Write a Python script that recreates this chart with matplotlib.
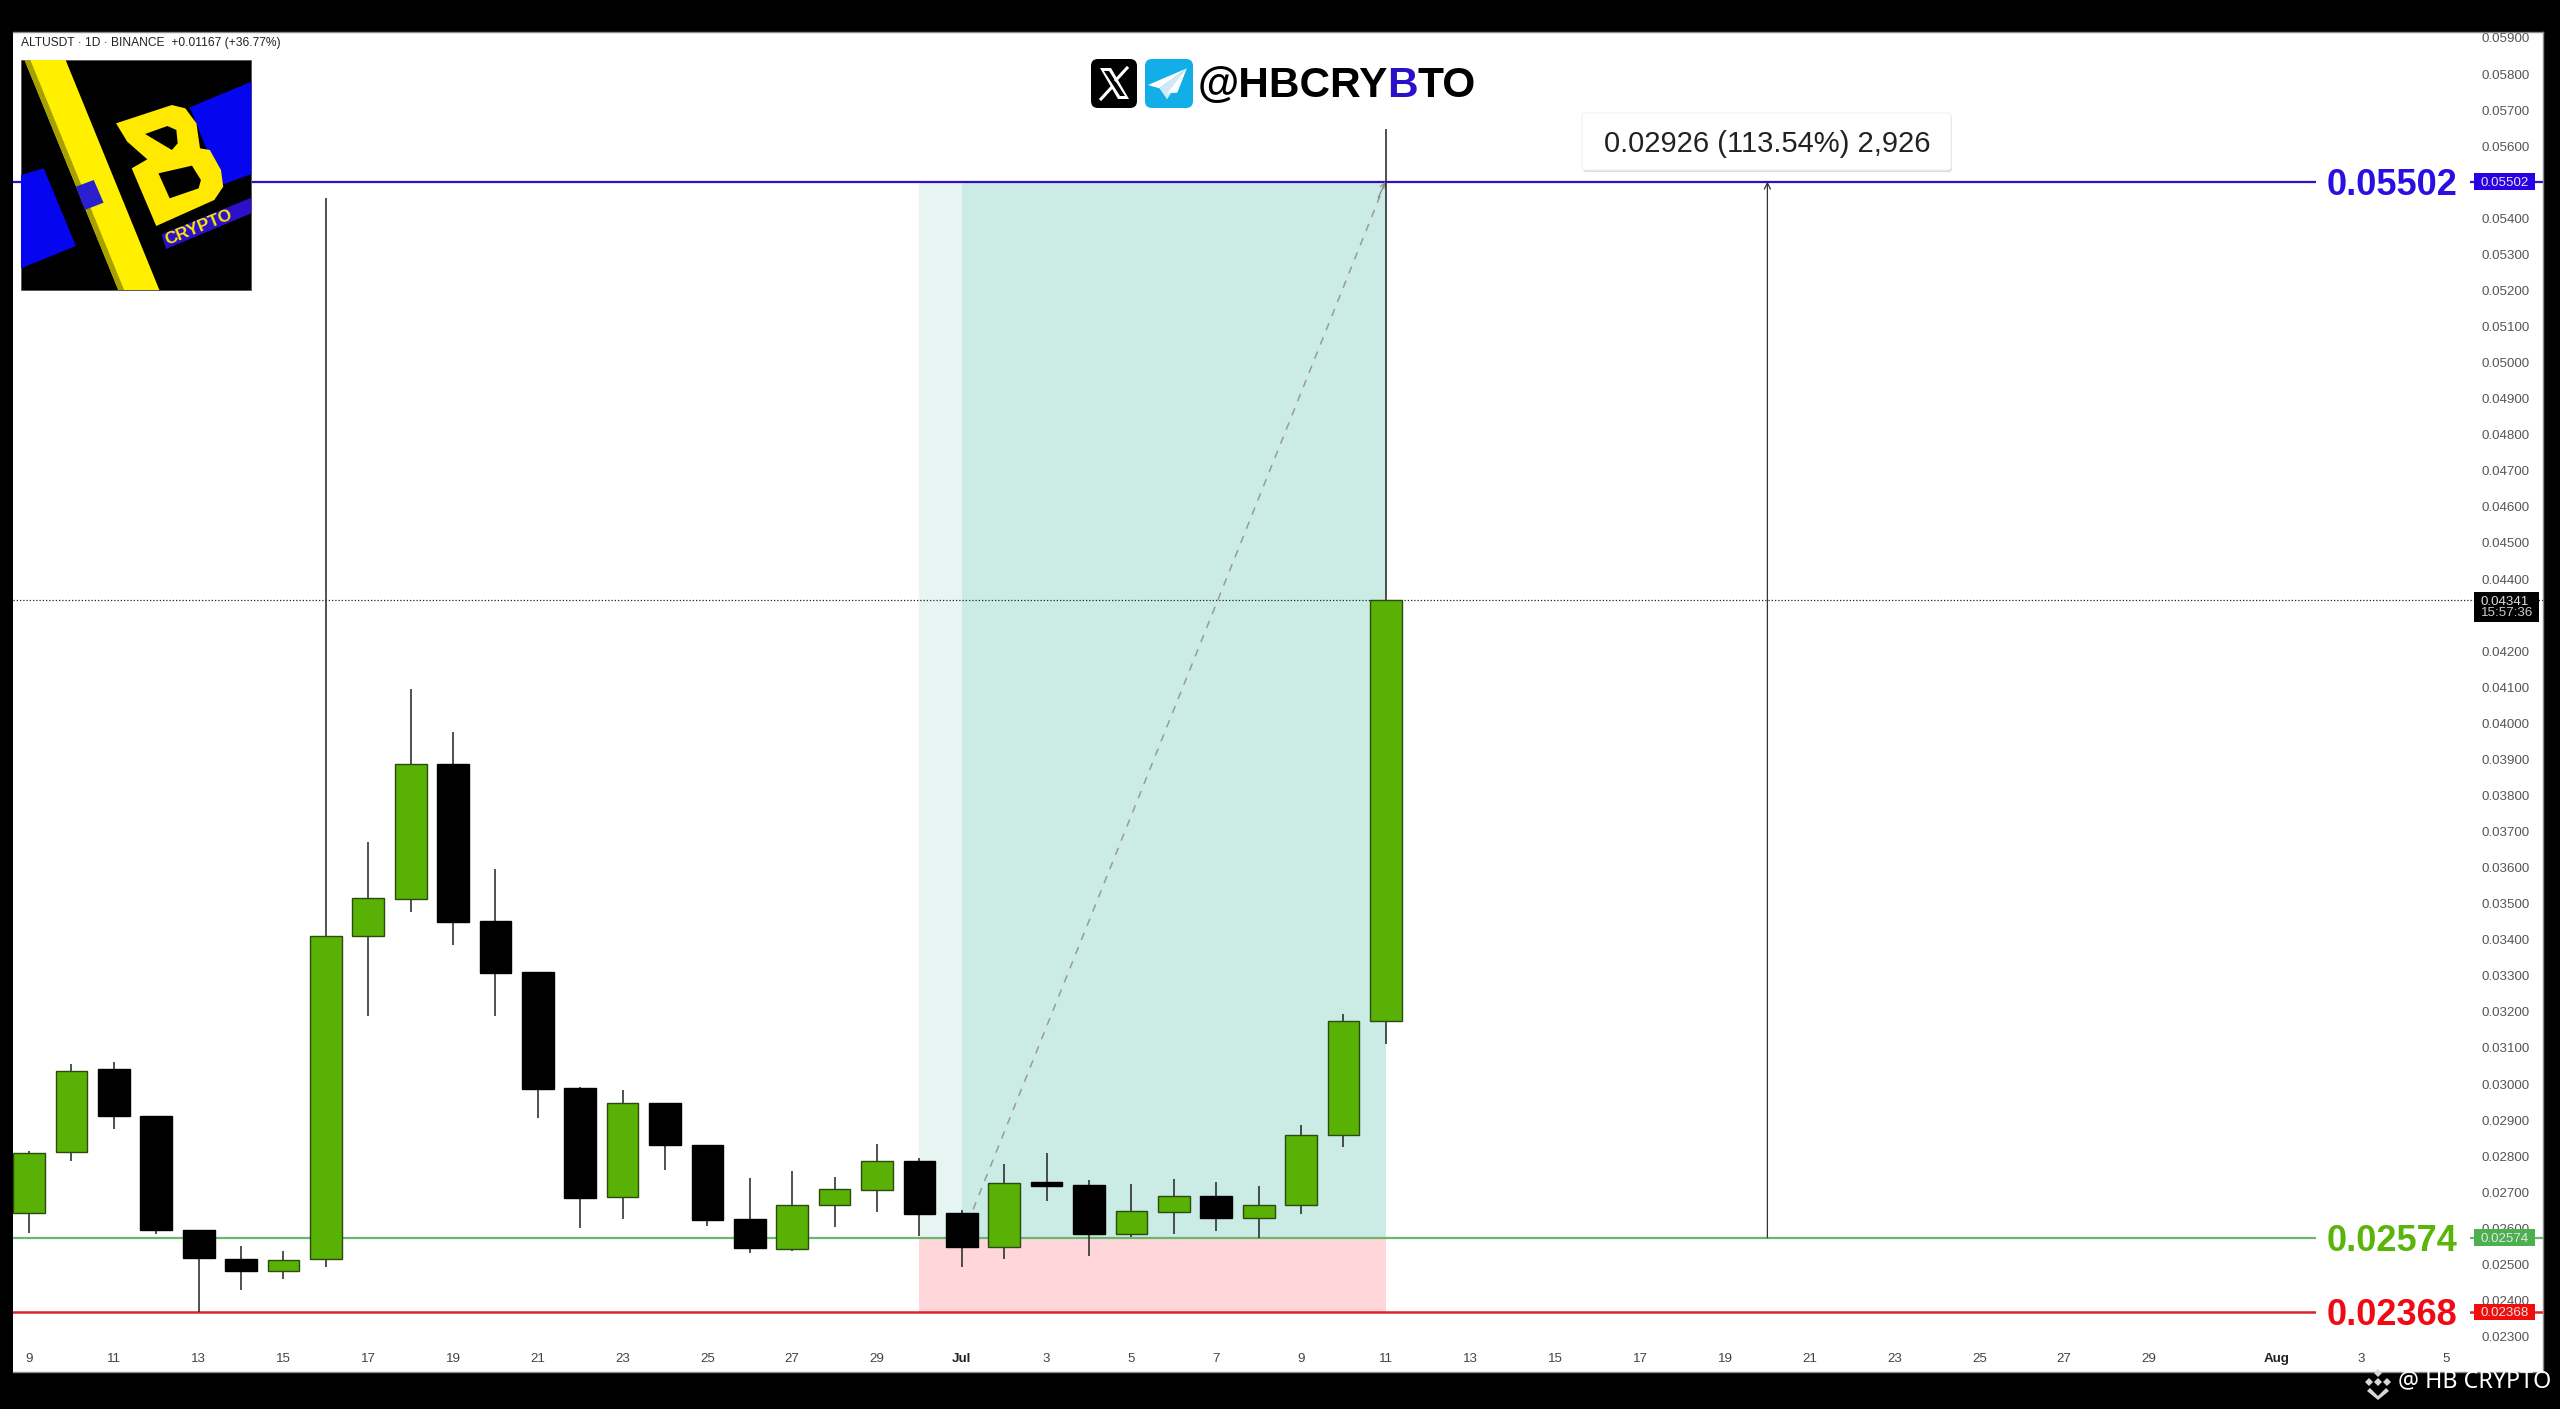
import matplotlib
matplotlib.use("Agg")
import matplotlib.pyplot as plt
from matplotlib.patches import Rectangle, Polygon, FancyBboxPatch

# ---- data (prices x 1000) ----
days = list(range(33))  # 0 = 9 Jun
opens = [26.415,28.124,30.425,29.113,25.953,25.158,24.816,25.149,34.104,35.12,38.863,34.52,33.097,29.88,26.858,29.474,28.318,26.258,25.417,26.637,27.071,27.875,26.424,25.472,27.274,27.191,25.833,26.461,26.895,26.276,26.637,28.577,31.74]
closes = [28.097,30.37,29.123,25.943,25.167,24.816,25.121,34.104,35.148,38.882,34.501,33.069,29.862,26.849,29.464,28.3,26.239,25.444,26.637,27.08,27.875,26.405,25.472,27.265,27.173,25.851,26.47,26.886,26.295,26.637,28.587,31.74,43.41]
highs = [28.15,30.546,30.601,29.113,25.953,25.518,25.38,54.56,36.719,40.952,39.769,35.952,33.097,29.917,29.834,29.474,28.318,27.394,27.579,27.413,28.337,27.958,26.507,27.783,28.078,27.339,27.228,27.367,27.283,27.173,28.873,31.94,56.477]
lows = [25.879,27.866,28.762,25.833,23.689,24.289,24.585,24.918,31.895,34.779,33.864,31.895,29.067,26.017,26.258,27.616,26.073,25.306,25.38,26.045,26.461,25.796,24.918,25.158,26.757,25.241,25.768,25.842,25.934,25.722,26.405,28.245,31.12]
ytick_values = list(range(23, 60))
xtick_days = [0,2,4,6,8,10,12,14,16,18,20,22,24,26,28,30,32,34,36,38,40,42,44,46,48,50,53,55,57]
xtick_labels = ["9","11","13","15","17","19","21","23","25","27","29","Jul","3","5","7","9","11","13","15","17","19","21","23","25","27","29","Aug","3","5"]
entry, target, stop, last = 25.74, 55.02, 23.68, 43.41
measure_day, zone_start, zone_mid, zone_end = 41, 21, 22, 32

GREEN = "#5ab105"
plt.rcParams["font.family"] = ["Liberation Sans", "DejaVu Sans"]
W, H = 2560, 1409
fig = plt.figure(figsize=(25.6, 14.09), dpi=100, facecolor="black")

L, R, T, B = 13.4, 2543, 32, 1372
ax = fig.add_axes([L/W, 1-B/H, (R-L)/W, (B-T)/H], facecolor="white")
ax.set_xlim((L-29)/42.4, (R-29)/42.4)
ax.set_ylim(59-(B-38)/36.07, 59+(38-T)/36.07)
for s in ax.spines.values():
    s.set_color("#8a8a8a"); s.set_linewidth(1)
ax.spines["left"].set_visible(False)

# y ticks inside
ax.yaxis.tick_right()
ax.set_yticks(ytick_values)
ax.set_yticklabels([f"{v/1000:.5f}" for v in ytick_values], fontsize=9.6, color="#555555")
ax.tick_params(axis="y", length=0, pad=-44.5)
ax.set_xticks(xtick_days)
ax.set_xticklabels(xtick_labels, fontsize=9.6, color="#444444")
ax.tick_params(axis="x", length=0, pad=-14)
for lab in ax.get_xticklabels():
    if lab.get_text() in ("Jul", "Aug"):
        lab.set_fontweight("bold"); lab.set_color("#222222")

# zones
ax.add_patch(Rectangle((zone_start, entry), zone_mid-zone_start, target-entry, fc="#e6f4f2", ec="none", zorder=1))
ax.add_patch(Rectangle((zone_mid, entry), zone_end-zone_mid, target-entry, fc="#cbebe5", ec="none", zorder=1))
ax.add_patch(Rectangle((zone_start, stop), zone_end-zone_start, entry-stop, fc="#ffd6da", ec="none", zorder=1))

# level lines
ax.axhline(target, color="#2d10c8", lw=1.6, zorder=2)
ax.axhline(entry, color="#6cb56f", lw=1.6, zorder=2)
ax.axhline(stop, color="#d9232e", lw=1.8, zorder=2)
ax.axhline(last, color="#222222", lw=0.9, ls=(0, (1, 1.6)), zorder=2)

# dashed diagonal
ax.plot([zone_mid, zone_end], [entry, target], color="#9a9a9a", lw=1.1, ls=(0, (5, 5)), zorder=2.2)
ax.annotate("", xy=(zone_end, target), xytext=(zone_end-0.18, target-0.45),
            arrowprops=dict(arrowstyle="->", color="#888888", lw=0.9, shrinkA=0, shrinkB=0), zorder=2.2)

# measure arrow
ax.annotate("", xy=(measure_day, target), xytext=(measure_day, entry),
            arrowprops=dict(arrowstyle="->", color="#333333", lw=0.9, shrinkA=0, shrinkB=0, mutation_scale=11), zorder=3)

# candles
for d, o, c, h, l in zip(days, opens, closes, highs, lows):
    up = c >= o
    ax.vlines(d, l, h, color="#222222", lw=1.1, zorder=3)
    ax.bar(d, abs(c-o), bottom=min(o, c), width=0.75,
           color=GREEN if up else "black", edgecolor="#2a4a10" if up else "black", linewidth=1.0, zorder=4)

# right-hand big labels + tags
tag_x, tag_w = (2474-29)/42.4, 61/42.4
levels = [(target, "#2a10e0", "#2a00e6", "0.05502"), (entry, "#5ab40a", "#4caf50", "0.02574"), (stop, "#f00a14", "#f20d0d", "0.02368")]
for val, col, tcol, s in levels:
    ax.add_patch(Rectangle(((2316-29)/42.4, val-0.5), (2470-2316)/42.4, 1.0, fc="white", ec="none", zorder=2.6))
    ax.text((2392-29)/42.4, val, s, color=col, fontsize=26, fontweight="bold", ha="center", va="center_baseline", zorder=5)
    ax.add_patch(Rectangle((tag_x, val-0.235), tag_w, 0.47, fc=tcol, ec="none", zorder=6))
    ax.text((2505-29)/42.4, val, s, color="#e6e6e6", fontsize=9.6, ha="center", va="center_baseline", zorder=7)

# current price tag
ax.add_patch(Rectangle((tag_x, last-0.61), 65/42.4, 0.83, fc="black", ec="none", zorder=6))
ax.text((2505-29)/42.4, last, "0.04341", color="#dddddd", fontsize=9.6, ha="center", va="center_baseline", zorder=7)
ax.text((2507-29)/42.4, last-0.31, "15:57:36", color="#cccccc", fontsize=9.6, ha="center", va="center_baseline", zorder=7)

# ---- overlay in pixel coordinates ----
ov = fig.add_axes([0, 0, 1, 1], facecolor="none")
ov.set_xlim(0, W); ov.set_ylim(H, 0); ov.axis("off")

ov.text(21, 43, "ALTUSDT · 1D · BINANCE  +0.01167 (+36.77%)", fontsize=8.65, color="#222222", va="center", ha="left")

# measure label
ov.add_patch(FancyBboxPatch((1583, 115), 369, 57, boxstyle="round,pad=0,rounding_size=3", fc="#dcdcdc", ec="none", zorder=2))
ov.add_patch(FancyBboxPatch((1582, 113), 369, 57, boxstyle="round,pad=0,rounding_size=3", fc="white", ec="#f2f2f2", lw=0.8, zorder=3))
ov.text(1767, 144, "0.02926 (113.54%) 2,926", fontsize=21, color="#222222", ha="center", va="center", zorder=4)

# logo
def zp(pts):
    return [(x/2.24, y/3) for x, y in pts]
ov.add_patch(Rectangle((21, 60), 230, 230, fc="black", ec="#555555", lw=0.6, zorder=3))
ov.add_patch(Polygon(zp([(425,322),(563,245),(563,522),(495,556)]), fc="#0505f0", zorder=4))
ov.add_patch(Polygon(zp([(47,525),(98,505),(170,738),(47,805)]), fc="#0505f0", zorder=4))
ov.add_patch(Polygon(zp([(55,180),(147,180),(357,870),(265,870)]), fc="#fff000", zorder=4))
ov.add_patch(Polygon(zp([(55,180),(68,180),(278,870),(265,870)]), fc="#a8a000", zorder=4))
ov.add_patch(Polygon(zp([(170,560),(210,540),(232,608),(190,630)]), fc="#2a20d0", zorder=5))
ov.add_patch(Polygon(zp([(362,703),(563,593),(563,640),(372,747)]), fc="#2a10c8", zorder=4))
ov.add_patch(Polygon(zp([(260,370),(385,315),(415,325),(440,370),(448,445),(470,450),(495,510),(500,560),(480,600),(350,678),(295,505),(330,478),(285,425)]), fc="#ffe900", zorder=5))
ov.add_patch(Polygon(zp([(325,402),(375,378),(395,390),(398,430),(385,450)]), fc="black", zorder=6))
ov.add_patch(Polygon(zp([(355,520),(430,497),(450,540),(445,565),(380,595)]), fc="black", zorder=6))
ov.text(445/2.24, 683/3, "CRYPTO", color="#ffe900", fontsize=12.5, fontweight="bold", rotation=22, ha="center", va="center", rotation_mode="anchor", zorder=7)

# title icons
ov.add_patch(FancyBboxPatch((1091, 59), 46, 49, boxstyle="round,pad=0,rounding_size=7", fc="black", ec="none", zorder=3))
ov.add_patch(Polygon([(1100,68),(1111,68),(1129,99),(1118,99)], fc="white", zorder=4))
ov.add_patch(Polygon([(1104,71),(1109,71),(1125,96),(1120,96)], fc="black", zorder=5))
ov.plot([1127,1116], [68,80], color="white", lw=2.2, zorder=6)
ov.plot([1112,1101], [87,99], color="white", lw=2.2, zorder=6)
ov.add_patch(FancyBboxPatch((1145, 59), 48, 49, boxstyle="round,pad=0,rounding_size=7", fc="#12aee8", ec="none", zorder=3))
tp = lambda pts: [(x/1.568+1000, y/3+30) for x, y in pts]
ov.add_patch(Polygon(tp([(293,115),(232,165),(250,175)]), fc="white", zorder=4))
ov.add_patch(Polygon(tp([(293,115),(250,175),(262,208)]), fc="#cfeaf6", zorder=4))
ov.add_patch(Polygon(tp([(293,115),(262,190),(278,188)]), fc="white", zorder=4))

# title text
fig.canvas.draw()
rend = fig.canvas.get_renderer()
x = 1198
for s, col in [("@HBCRY", "black"), ("B", "#2a10c8"), ("TO", "black")]:
    t = ov.text(x, 86, s, color=col, fontsize=30.5, fontweight="bold", ha="left", va="center", zorder=4)
    x += t.get_window_extent(rend).width - 1

# watermark
ov.text(2398, 1381, "@ HB CRYPTO", color="white", fontsize=16.8, family="Noto Sans", ha="left", va="center", zorder=4)
cx, cy, col = 2378, 1382, "#d8d8d8"
for dx, dy, r in [(0, -9, 4), (-9, 0, 4), (9, 0, 4), (0, 0, 4)]:
    ov.add_patch(Polygon([(cx+dx, cy+dy-r), (cx+dx+r, cy+dy), (cx+dx, cy+dy+r), (cx+dx-r, cy+dy)], fc=col, zorder=4))
ov.add_patch(Polygon([(cx-8, cy+6), (cx, cy+14), (cx+8, cy+6), (cx+11, cy+9), (cx, cy+18), (cx-11, cy+9)], fc=col, zorder=4))

fig.savefig("out.png", dpi=100, facecolor="black")
